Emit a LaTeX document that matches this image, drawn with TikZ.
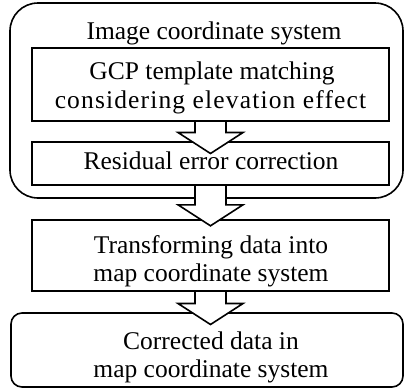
\documentclass[tikz,border=0pt]{standalone}
\usepackage{fontspec}
\setmainfont{Liberation Serif}
\newfontfamily\widespaced[LetterSpace=4.5]{Liberation Serif}
\tikzset{
  outline/.style={draw=black, line width=1.6pt},
  stepbox/.style={outline, rectangle, inner sep=0pt},
  groupbox/.style={outline, rectangle, rounded corners=#1, inner sep=0pt},
  txt/.style={inner sep=0pt, anchor=base, font=\fontsize{25.5}{30}\selectfont},
}
% hollow block arrow hanging below a node: #1 source node, #2 shaft length
\newcommand\blockarrow[2]{%
  \fill[white] ([xshift=-15.5pt,yshift=-0.9pt]#1.south) -- ++(0,-#2+0.9) -- ++(-17,0)
    -- ++(32.5,-21) -- ++(32.5,21) -- ++(-17,0) -- ++(0,#2-0.9) -- cycle;
  \draw[outline, line join=miter] ([xshift=-15.5pt]#1.south) -- ++(0,-#2) -- ++(-17,0)
    -- ++(32.5,-21) -- ++(32.5,21) -- ++(-17,0) -- ++(0,#2);
}
\begin{document}
\begin{tikzpicture}[x=1pt, y=1pt]
  \useasboundingbox (0,0) rectangle (404,-389);

  % image coordinate system group
  \node[groupbox=28pt, minimum width=393pt, minimum height=195pt] (group) at (206.5,-100.5) {};
  \node[txt] (grouptitle) at (214,-39.5) {Image coordinate system};

  % processing steps inside the group
  \node[stepbox, minimum width=357pt, minimum height=73pt] (gcp) at (210.5,-84.5) {};
  \node[txt] (gcpA) at (212,-79) {GCP template matching};
  \node[txt] (gcpB) at (210.5,-108.5) {\widespaced considering elevation effect};

  \node[stepbox, minimum width=357pt, minimum height=43pt] (resid) at (210.5,-163.5) {};
  \node[txt] (residA) at (211,-169) {Residual error correction};

  % transformation step
  \node[stepbox, minimum width=357pt, minimum height=71pt] (transform) at (210.5,-255.5) {};
  \node[txt] (transA) at (211,-253.5) {Transforming data into};
  \node[txt] (transB) at (211,-281.5) {map coordinate system};

  % final product
  \node[groupbox=11pt, minimum width=392pt, minimum height=74pt] (result) at (207,-350) {};
  \node[txt] (resultA) at (211,-349.5) {Corrected data in};
  \node[txt] (resultB) at (211,-377.5) {map coordinate system};

  % flow arrows
  \blockarrow{gcp}{10.7}
  \blockarrow{resid}{19}
  \blockarrow{transform}{11.7}
\end{tikzpicture}
\end{document}
